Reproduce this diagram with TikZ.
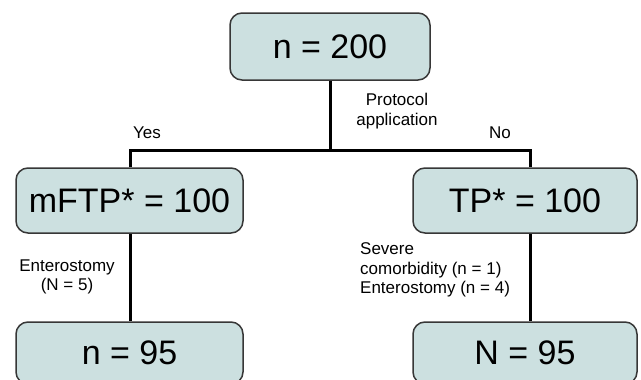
\documentclass[tikz,border=0pt]{standalone}
\usepackage{fontspec}
\setmainfont{Liberation Sans}
\definecolor{boxfill}{RGB}{204,224,224}
\definecolor{boxline}{RGB}{55,55,55}
\begin{document}
\begin{tikzpicture}[x=1pt,y=-1pt,
  box/.style={draw=boxline, line width=1.5pt, fill=boxfill, rounded corners=12pt,
    inner sep=0pt, font=\fontsize{34}{40}\selectfont},
  conn/.style={line width=3pt, black},
  lbl/.style={font=\fontsize{17}{19.5}\selectfont, inner sep=0pt, align=center}]
\useasboundingbox (0,0) rectangle (641,380);
\fill[white] (0,0) rectangle (641,380);
\node[box, minimum width=200pt, minimum height=67pt] (top) at (330,46.5) {n = 200};
\node[box, minimum width=227pt, minimum height=65pt] (left) at (129.5,200.5) {mFTP* = 100};
\node[box, minimum width=224pt, minimum height=65pt] (right) at (525,200.5) {TP* = 100};
\node[box, minimum width=227pt, minimum height=62pt] (lbot) at (129.5,353) {n = 95};
\node[box, minimum width=224pt, minimum height=62pt] (rbot) at (525,353) {N = 95};
\coordinate (split) at (330,150);
\draw[conn] (top.south) -- (split);
\draw[conn] ([xshift=0.5pt]left.north) |- (split) -| ([xshift=5pt]right.north);
\draw[conn] ([xshift=0.5pt]left.south) -- ([xshift=0.5pt]lbot.north);
\draw[conn] ([xshift=5pt]right.south) -- ([xshift=5pt]rbot.north);
\node[lbl] (proto) at (397,111) {Protocol\\application};
\node[lbl] (yes) at (147,133) {Yes};
\node[lbl] (no) at (500,133) {No};
\node[lbl] (ent) at (67,277) {Enterostomy\\(N = 5)};
\node[lbl, anchor=west, align=left] (sev) at (360,270) {Severe\\comorbidity (n = 1)\\Enterostomy (n = 4)};
\end{tikzpicture}
\end{document}
